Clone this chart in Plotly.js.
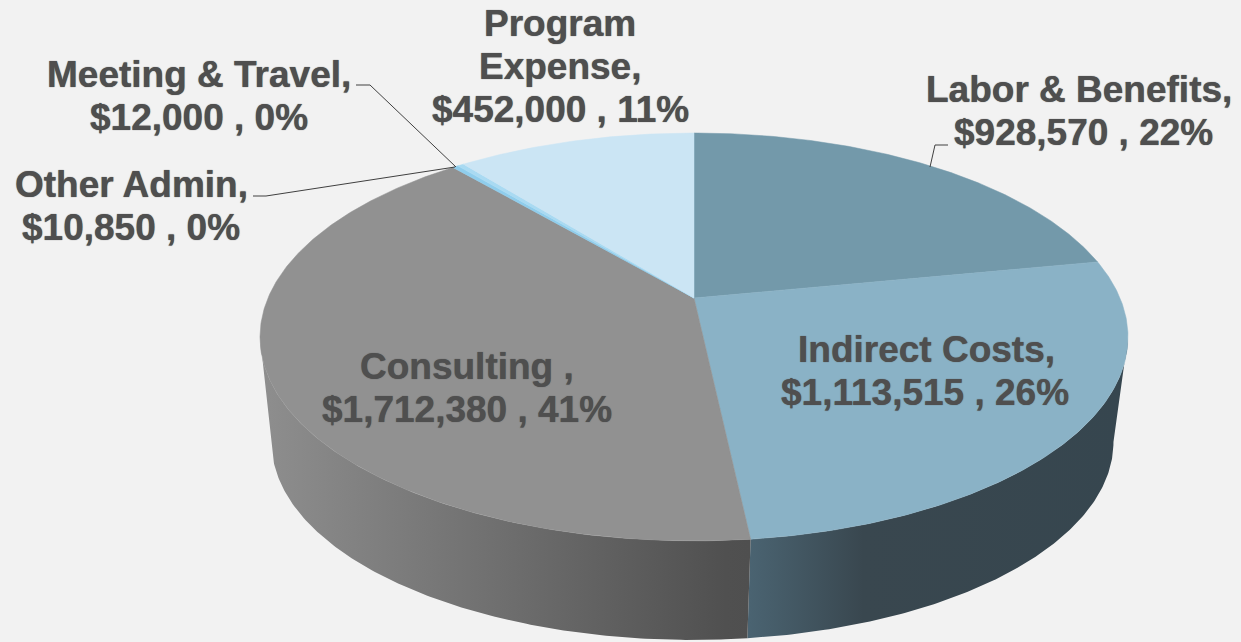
<!DOCTYPE html>
<html>
<head>
<meta charset="utf-8">
<script src="https://cdn.plot.ly/plotly-3.0.1.min.js"></script>
<style>html,body{margin:0;padding:0;background:#f2f2f2;}#chart{width:1241px;height:642px;}</style>
</head>
<body>
<div id="chart"></div>
<script>
// Data, clockwise from 12 o'clock
const categories = ["Labor & Benefits", "Indirect Costs", "Consulting", "Other Admin", "Meeting & Travel", "Program Expense"];
const amounts = [928570, 1113515, 1712380, 10850, 12000, 452000];
const topColors = ["#7399aa", "#8ab2c6", "#919191", "#8fcdec", "#a9daf2", "#cbe5f4"];

// Label lines, and where they sit
const labelLines = [
  ["Labor & Benefits,", "$928,570 , 22%"],
  ["Indirect Costs,", "$1,113,515 , 26%"],
  ["Consulting ,", "$1,712,380 , 41%"],
  ["Other Admin,", "$10,850 , 0%"],
  ["Meeting & Travel,", "$12,000 , 0%"],
  ["Program", "Expense,", "$452,000 , 11%"]
];
const labelX = [[1079, 1083], [926, 925], [467, 467], [131, 131], [199, 199], [560, 560, 560]];
const labelY = [89, 349, 366, 184, 74, 23];
const lineStep = 43;

// Leader lines
const leaders = [
  {x: [930, 935, 948], y: [167, 145, 145]},
  {x: [356, 370, 456], y: [85, 85, 167]},
  {x: [253, 266, 455], y: [196, 196, 167]}
];

// Perspective view of the disc
const view = {cx: 694, cy: 298, a: 426, b: 196.5, k: 0.191, depthCx: 692.5, depthCy: 404.3, depthScale: 0.97};
function project(deg, rim) {
  const t = deg * Math.PI / 180, u = Math.sin(t), v = Math.cos(t), w = 1 + view.k * v;
  const s = rim ? view.depthScale : 1, cy = rim ? view.depthCy : view.cy, cx = rim ? view.depthCx : view.cx;
  return [cx + s * view.a * u / w, cy - s * view.b * v / w];
}
function arc(from, to, rim) {
  const n = Math.max(2, Math.ceil(Math.abs(to - from) * 2)), pts = [];
  for (let i = 0; i <= n; i++) pts.push(project(from + (to - from) * i / n, rim));
  return pts;
}
const total = amounts.reduce((a, b) => a + b, 0);
let running = 0;
const edges = [0].concat(amounts.map(v => (running += v) / total * 360));

function wall(from, to, gradStart, gradStop, scale) {
  const pts = arc(from, to, false).concat(arc(to, from, true));
  pts.push(pts[0]);
  return {
    type: "scatter", mode: "lines", hoverinfo: "skip", showlegend: false,
    x: pts.map(p => p[0]), y: pts.map(p => p[1]),
    line: {width: 0}, fill: "toself",
    fillgradient: {type: "horizontal", start: gradStart, stop: gradStop, colorscale: scale}
  };
}
const traces = [
  wall(101, edges[2], 750, 1128, [[0, "#4a6371"], [0.3, "#39474f"], [1, "#36464f"]]),
  wall(edges[2], 259, 262, 750, [[0, "#8e8e8e"], [0.5, "#6e6e6e"], [0.95, "#505050"], [1, "#4f4f4f"]])
];
categories.forEach((name, i) => {
  const pts = [[view.cx, view.cy]].concat(arc(edges[i], edges[i + 1], false));
  pts.push(pts[0]);
  traces.push({
    type: "scatter", mode: "lines", name: name, hoverinfo: "skip", showlegend: false,
    x: pts.map(p => p[0]), y: pts.map(p => p[1]),
    line: {width: 0.5, color: topColors[i]}, fill: "toself", fillcolor: topColors[i]
  });
});
leaders.forEach(l => traces.push({
  type: "scatter", mode: "lines", hoverinfo: "skip", showlegend: false,
  x: l.x, y: l.y, line: {width: 1, color: "#404040"}
}));

const annotations = [];
labelLines.forEach((lines, i) => lines.forEach((t, j) => annotations.push({
  x: labelX[i][j], y: labelY[i] + j * lineStep, xref: "x", yref: "y",
  text: t, showarrow: false, xanchor: "center", yanchor: "middle",
  font: {family: "Liberation Sans, Arial, sans-serif", size: 37, color: "#4f4f4f", weight: 700, shadow: "0 0 1px #4f4f4f"}
})));

Plotly.newPlot("chart", traces, {
  width: 1241, height: 642,
  margin: {l: 0, r: 0, t: 0, b: 0},
  paper_bgcolor: "#f2f2f2", plot_bgcolor: "#f2f2f2",
  showlegend: false,
  xaxis: {range: [0, 1241], visible: false, fixedrange: true},
  yaxis: {range: [642, 0], visible: false, fixedrange: true},
  annotations: annotations
}, {displayModeBar: false, staticPlot: true});
</script>
</body>
</html>
